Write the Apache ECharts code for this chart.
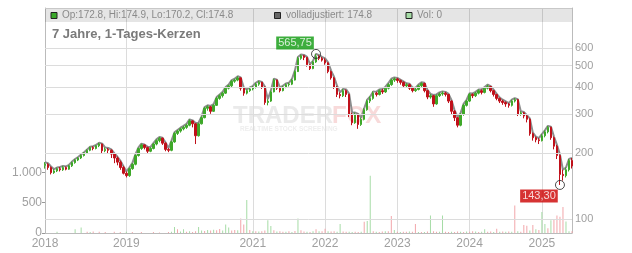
<!DOCTYPE html>
<html><head><meta charset="utf-8">
<script src="https://cdn.jsdelivr.net/npm/echarts@6/dist/echarts.min.js"></script>
<style>html,body{margin:0;padding:0;background:#fff}#c{width:632px;height:253px}</style>
</head><body><div id="c"></div>
<script>
// ---- data ----
const yearLabels = ['2018','2019','2021','2022','2023','2024','2025'];
const yearIdx = [0,27,69,93,117,141,165];
const priceTicks = [100,200,300,400,500,600];
const volTicks = [0,500,1000];
const lastDay = [172.8,174.9,170.2,174.8]; // Op, Hi, Lo, Cl
const adjLast = 174.8;
const volLast = 0;
const highMark = [90, 565.75];
const lowMark = [171, 143.30];
// [open, close, low, high]
const ohlc = [
[176,178,170,182],[178,172,168,180],[172,163,160,174],[163,166,161,169],[166,170,164,172],
[170,168,165,173],[168,172,166,175],[172,169,167,174],[169,175,168,177],[175,181,173,183],
[181,186,179,188],[186,190,184,192],[190,195,188,197],[195,200,193,202],[200,206,198,208],
[206,212,204,214],[212,210,206,215],[210,216,208,218],[216,220,213,223],[220,205,200,221],
[205,208,202,212],[208,206,200,211],[206,198,190,208],[198,190,180,200],[190,182,176,193],
[182,172,168,185],[172,162,160,175],[162,158,155,165],[158,170,156,172],[170,178,168,180],
[178,195,176,197],[195,210,193,212],[210,218,207,221],[218,212,208,219],[212,204,200,214],
[204,210,202,213],[210,220,208,222],[220,228,217,231],[228,234,224,237],[234,222,218,235],
[222,208,204,224],[208,206,202,211],[206,225,204,228],[225,246,223,249],[246,252,242,255],
[252,258,248,261],[258,262,254,266],[262,268,258,272],[268,280,265,285],[280,272,262,282],
[272,240,220,274],[240,272,238,275],[272,290,270,294],[290,320,288,324],[320,325,312,330],
[325,310,302,328],[310,330,308,334],[330,355,328,360],[355,365,350,370],[365,375,358,380],
[375,395,372,400],[395,405,390,410],[405,425,400,430],[425,430,418,436],[430,440,425,448],
[440,395,385,442],[395,375,365,398],[375,385,370,390],[385,392,380,398],[392,398,386,404],
[398,412,394,418],[412,420,405,426],[420,400,392,422],[400,340,332,402],[340,345,330,352],
[345,380,342,385],[380,430,378,436],[430,395,388,432],[395,385,378,398],[385,400,382,405],
[400,410,395,415],[410,412,402,418],[412,430,408,435],[430,470,428,476],[470,540,468,548],
[540,555,532,562],[555,545,530,560],[545,505,495,548],[505,485,478,508],[485,520,482,526],
[520,550,515,565.75],[550,540,530,558],[540,530,522,548],[530,515,505,540],[515,470,462,518],
[470,440,432,475],[440,400,392,444],[400,370,360,404],[370,365,355,378],[365,385,360,392],
[385,370,360,390],[370,300,292,372],[300,275,268,305],[275,300,272,306],[300,270,258,302],
[270,285,266,290],[285,315,282,320],[315,345,312,350],[345,355,338,362],[355,375,350,382],
[375,370,362,380],[370,385,366,390],[385,380,372,392],[380,395,376,400],[395,410,390,416],
[410,430,405,436],[430,435,422,442],[435,428,418,440],[428,420,410,432],[420,405,398,424],
[405,410,398,416],[410,395,388,414],[395,385,378,398],[385,390,380,396],[390,405,386,410],
[405,415,400,420],[415,385,378,418],[385,360,352,388],[360,365,354,372],[365,335,325,368],
[335,365,332,370],[365,372,360,378],[372,375,365,382],[375,370,362,380],[370,345,338,372],
[345,310,300,348],[310,290,280,314],[290,268,262,292],[268,300,265,304],[300,330,296,335],
[330,345,326,350],[345,370,342,375],[370,365,356,374],[365,375,360,380],[375,385,370,390],
[385,378,370,390],[378,395,374,400],[395,402,390,410],[402,385,378,404],[385,370,362,388],
[370,355,348,372],[355,345,338,358],[345,340,332,350],[340,335,325,344],[335,330,322,338],
[330,345,326,350],[345,350,340,356],[350,300,295,352],[300,305,296,310],[305,295,288,308],
[295,285,276,298],[285,245,240,288],[245,235,228,248],[235,230,224,238],[230,228,220,234],
[228,240,226,244],[240,250,236,254],[250,262,246,266],[262,235,230,264],[235,215,208,238],
[215,195,188,218],[195,160,143.3,197],[160,158,150,168],[158,168,155,172],[168,185,165,188],[185,174.8,170.2,190]
];
const volume = [
0,0,0,0,20,0,0,0,0,0,
60,0,90,0,20,15,25,0,20,0,
15,0,0,20,0,15,0,20,0,15,
0,0,15,0,0,0,15,0,10,0,
0,15,20,100,60,25,60,20,30,15,
30,100,40,35,50,40,55,45,65,40,
140,90,40,50,45,240,140,545,50,30,
30,25,30,40,210,115,45,25,30,20,
20,30,15,35,240,45,25,20,15,30,
60,30,30,70,30,25,30,20,150,25,
20,20,15,20,15,20,185,200,945,30,
20,15,25,30,30,280,50,20,15,20,
20,25,20,150,15,15,15,25,290,30,
20,20,290,20,15,20,15,25,20,15,
25,20,30,25,15,20,60,20,25,15,
70,20,25,20,25,20,455,30,20,130,
120,40,130,60,50,345,150,80,210,220,
290,270,430,190,30,30
];
const volUp = [
1,0,1,0,1,0,1,0,1,0, 1,0,1,0,0,1,0,1,0,1, 0,1,0,0,1,0,0,1,1,0, 1,0,0,1,0,1,0,1,0,0,
1,0,1,1,0,1,1,0,1,0, 0,1,1,0,1,0,1,0,0,1, 1,1,0,0,1,0,0,1,0,1, 0,1,0,0,1,1,0,1,0,0,
1,0,1,0,1,0,0,1,0,1, 0,1,0,0,1,0,0,1,1,0, 0,1,1,0,0,1,0,1,1,0, 1,0,0,1,0,0,1,0,1,0,
0,1,0,0,1,0,1,0,1,0, 0,1,1,0,0,1,0,0,1,0, 1,0,0,1,0,1,1,0,0,1, 0,1,0,1,0,1,0,1,0,0,
0,1,0,1,0,1,1,0,1,0, 0,0,0,1,1,0
];

// ---- build ----
const L = Math.log10;
const cats = ohlc.map((r,i) => { const k = yearIdx.indexOf(i); return k >= 0 ? yearLabels[k] : String(i); });
const candleData = ohlc.map(r => r.map(L));
const adjLine = ohlc.map(r => L(r[3]));
const volData = volume.map((v,i) => ({value: v, itemStyle: {color: volUp[i] ? '#a6dca6' : '#f2a6aa'}}));
const deNum = v => v.toFixed(2).replace('.', ',');
const fmtThousands = v => String(v).replace(/\B(?=(\d{3})+(?!\d))/g, '.');
const FF = 'Liberation Sans, Arial, sans-serif';

const chart = echarts.init(document.getElementById('c'), null, {renderer: 'canvas'});
chart.setOption({
  animation: false,
  backgroundColor: '#fff',
  grid: {left: 45, right: 60, top: 8, bottom: 20},
  xAxis: {
    type: 'category', data: cats, boundaryGap: false,
    axisLine: {show: true, lineStyle: {color: '#bbb'}},
    axisTick: {show: false},
    axisLabel: {interval: (i) => yearIdx.indexOf(i) >= 0, color: '#a0a0a0', fontSize: 12, fontFamily: FF, margin: 5},
    splitLine: {show: true, interval: (i) => yearIdx.indexOf(i) > 0, lineStyle: {color: '#dcdcdc', width: 1}}
  },
  yAxis: [
    {
      type: 'value', position: 'right', min: L(86.6), max: L(915.3), scale: true,
      axisLine: {show: true, lineStyle: {color: '#bbb'}},
      axisTick: {show: true, inside: true, length: 3, customValues: priceTicks.map(L), lineStyle: {color: '#999'}},
      axisLabel: {customValues: priceTicks.map(L), formatter: v => String(Math.round(Math.pow(10, v))), color: '#a0a0a0', fontSize: 11, fontFamily: FF, margin: 3},
      splitLine: {show: false}
    },
    {
      type: 'value', position: 'left', min: 0, max: 3713,
      axisLine: {show: true, lineStyle: {color: '#bbb'}},
      axisTick: {show: true, length: 3, customValues: volTicks, lineStyle: {color: '#999'}},
      axisLabel: {customValues: volTicks, formatter: v => fmtThousands(Math.round(v)), color: '#a0a0a0', fontSize: 12, fontFamily: FF, margin: 3},
      splitLine: {show: false}
    }
  ],
  graphic: [
    {type: 'rect', shape: {x: 45, y: 8, width: 527, height: 14}, style: {fill: 'rgba(0,0,0,0.10)'}, z: 10, silent: true},
    {type: 'line', shape: {x1: 45, y1: 8.5, x2: 572, y2: 8.5}, style: {stroke: '#c8c8c8', lineWidth: 1}, z: 10},
    {type: 'rect', shape: {x: 51, y: 12.5, width: 6, height: 6}, style: {fill: '#3aa82a', stroke: '#222', lineWidth: 1}, z: 11},
    {type: 'text', x: 62, y: 15.5, style: {text: 'Op:' + lastDay[0] + ', Hi:' + lastDay[1] + ', Lo:' + lastDay[2] + ', Cl:' + lastDay[3], fill: '#8a8a8a', font: '10px ' + FF, verticalAlign: 'middle'}, z: 11},
    {type: 'rect', shape: {x: 274.5, y: 12.5, width: 6, height: 6}, style: {fill: '#666', stroke: '#222', lineWidth: 1}, z: 11},
    {type: 'text', x: 286, y: 15.5, style: {text: 'volladjustiert: ' + adjLast, fill: '#8a8a8a', font: '10px ' + FF, verticalAlign: 'middle'}, z: 11},
    {type: 'rect', shape: {x: 406, y: 12.5, width: 6, height: 6}, style: {fill: '#a6dca6', stroke: '#222', lineWidth: 1}, z: 11},
    {type: 'text', x: 417, y: 15.5, style: {text: 'Vol: ' + volLast, fill: '#8a8a8a', font: '10px ' + FF, verticalAlign: 'middle'}, z: 11},
    {type: 'text', x: 52, y: 34, style: {text: '7 Jahre, 1-Tages-Kerzen', fill: '#7a7a7a', font: 'bold 13px ' + FF, verticalAlign: 'middle'}, z: 11},
    {type: 'text', x: 233, y: 116, style: {text: 'TRADER', fill: '#eaeaea', font: 'bold 24px ' + FF, verticalAlign: 'middle'}, z: 0, silent: true},
    {type: 'text', x: 332, y: 116, style: {text: 'FOX', fill: '#f8dada', font: 'bold 24px ' + FF, verticalAlign: 'middle'}, z: 0, silent: true},
    {type: 'text', x: 240, y: 129.5, style: {text: 'REALTIME STOCK SCREENING', fill: '#eeeeee', font: 'bold 6.5px ' + FF, verticalAlign: 'middle'}, z: 0, silent: true}
  ],
  series: [
    {
      name: 'Vol', type: 'bar', xAxisIndex: 0, yAxisIndex: 1, data: volData, barWidth: 1, z: 1, silent: true
    },
    {
      name: 'volladjustiert', type: 'line', yAxisIndex: 0, data: adjLine, showSymbol: false, symbol: 'none',
      lineStyle: {color: '#8c8c8c', width: 2}, z: 2, silent: true,
      markLine: {silent: true, symbol: ['none','none'], label: {show: false},
        lineStyle: {color: '#dcdcdc', type: 'solid', width: 1},
        data: priceTicks.map(v => ({yAxis: L(v)}))}
    },
    {
      name: 'Kurs', type: 'candlestick', yAxisIndex: 0, data: candleData, barWidth: 2, z: 3, silent: true,
      itemStyle: {color: '#3ea829', color0: '#c0101a', borderColor: '#3ea829', borderColor0: '#c0101a', borderWidth: 1}
    },
    {
      name: 'marks', type: 'scatter', yAxisIndex: 0, z: 5, silent: true,
      symbol: 'circle', symbolSize: 9,
      itemStyle: {color: 'rgba(0,0,0,0)', borderColor: '#222', borderWidth: 1},
      data: [
        {value: [highMark[0], L(highMark[1])], label: {show: true, position: 'inside', offset: [-21, -11], formatter: deNum(highMark[1]), backgroundColor: '#0d9a0d', color: '#fff', fontSize: 11, fontFamily: FF, padding: [1, 2, 0, 2], lineHeight: 12}},
        {value: [lowMark[0], L(lowMark[1])], label: {show: true, position: 'inside', offset: [-21, 11], formatter: deNum(lowMark[1]), backgroundColor: '#cc0000', color: '#fff', fontSize: 11, fontFamily: FF, padding: [1, 2, 0, 2], lineHeight: 12}}
      ]
    }
  ]
});
</script></body></html>
